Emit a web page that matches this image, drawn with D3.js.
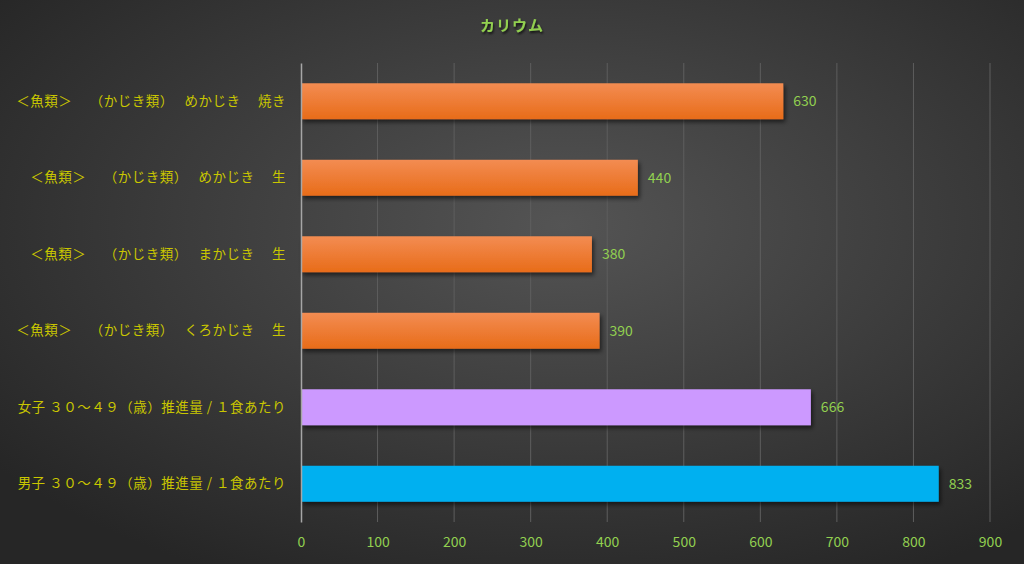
<!DOCTYPE html>
<html>
<head>
<meta charset="utf-8">
<script src="https://cdn.jsdelivr.net/npm/d3@7"></script>
<style>
  html, body { margin: 0; padding: 0; background: #333; }
  svg { display: block; }
</style>
</head>
<body>
<div id="chart"></div>
<script>
const categories = [
  "＜魚類＞　 （かじき類）　 めかじき　 焼き",
  "＜魚類＞　 （かじき類）　 めかじき　 生",
  "＜魚類＞　 （かじき類）　 まかじき　 生",
  "＜魚類＞　 （かじき類）　 くろかじき　 生",
  "女子 ３０～４９（歳）推進量 / １食あたり",
  "男子 ３０～４９（歳）推進量 / １食あたり"
];
const values = [630, 440, 380, 390, 666, 833];
const barKinds = ["fish", "fish", "fish", "fish", "female", "male"];
const xTicks = [0, 100, 200, 300, 400, 500, 600, 700, 800, 900];

const W = 1024, H = 564;
const margin = { top: 63, right: 34, bottom: 42, left: 301 };
const width = W - margin.left - margin.right;
const height = H - margin.top - margin.bottom;

const svg = d3.select("#chart").append("svg")
  .attr("width", W)
  .attr("height", H);

const defs = svg.append("defs");

const bg = defs.append("radialGradient")
  .attr("id", "bg")
  .attr("cx", "55%").attr("cy", "40%").attr("r", "70%");
bg.append("stop").attr("offset", "0%").attr("stop-color", "#545454");
bg.append("stop").attr("offset", "100%").attr("stop-color", "#262626");

const orange = defs.append("linearGradient")
  .attr("id", "orange")
  .attr("x1", 0).attr("y1", 0).attr("x2", 0).attr("y2", 1);
orange.append("stop").attr("offset", "0%").attr("stop-color", "#f38c52");
orange.append("stop").attr("offset", "100%").attr("stop-color", "#e86c19");

const shadow = defs.append("filter")
  .attr("id", "shadow")
  .attr("x", "-5%").attr("y", "-20%").attr("width", "115%").attr("height", "160%");
shadow.append("feDropShadow")
  .attr("dx", 2).attr("dy", 3).attr("stdDeviation", 2)
  .attr("flood-color", "#000").attr("flood-opacity", 0.55);

const titleShadow = defs.append("filter").attr("id", "tshadow");
titleShadow.append("feDropShadow")
  .attr("dx", 1).attr("dy", 2).attr("stdDeviation", 1)
  .attr("flood-color", "#000").attr("flood-opacity", 0.7);

svg.append("rect")
  .attr("width", W).attr("height", H)
  .attr("fill", "url(#bg)");

const fill = { fish: "url(#orange)", female: "#cc99ff", male: "#00b0f0" };

const g = svg.append("g")
  .attr("transform", `translate(${margin.left},${margin.top})`);

const x = d3.scaleLinear().domain([0, 900]).range([0, width]);
const y = d3.scaleBand().domain(categories).range([0, height]).paddingInner(0.53).paddingOuter(0.265);

// gridlines
g.append("g")
  .selectAll("line")
  .data(xTicks.slice(1))
  .join("line")
  .attr("x1", d => x(d)).attr("x2", d => x(d))
  .attr("y1", 0).attr("y2", height)
  .attr("stroke", "#5e5e5e")
  .attr("stroke-width", 1);

// x axis labels
const xAxis = g.append("g")
  .attr("transform", `translate(0,${height})`)
  .call(d3.axisBottom(x).tickValues(xTicks).tickSize(0).tickPadding(15));
xAxis.select(".domain").remove();
xAxis.selectAll("text")
  .attr("fill", "#92d050")
  .attr("font-family", "'Noto Sans CJK JP', 'Noto Sans', sans-serif")
  .attr("font-size", 14);

// bars
g.selectAll(".bar")
  .data(values)
  .join("rect")
  .attr("class", "bar")
  .attr("x", 0)
  .attr("y", (d, i) => y(categories[i]))
  .attr("width", d => x(d))
  .attr("height", y.bandwidth())
  .attr("fill", (d, i) => fill[barKinds[i]])
  .attr("filter", "url(#shadow)");

// value labels
g.selectAll(".val")
  .data(values)
  .join("text")
  .attr("class", "val")
  .attr("x", d => x(d) + 10)
  .attr("y", (d, i) => y(categories[i]) + y.bandwidth() / 2)
  .attr("dy", "0.35em")
  .attr("fill", "#92d050")
  .attr("font-family", "'Noto Sans CJK JP', 'Noto Sans', sans-serif")
  .attr("font-size", 14)
  .text(d => d);

// y axis
const yAxis = g.append("g")
  .call(d3.axisLeft(y).tickSize(0).tickPadding(15));
yAxis.select(".domain")
  .attr("stroke", "#a6a6a6")
  .attr("stroke-width", 1.5);
yAxis.selectAll("text")
  .attr("fill", "#c9c600")
  .attr("font-family", "'Noto Sans CJK JP', sans-serif")
  .attr("font-size", 13.5)
  .attr("letter-spacing", 0.5);

// title
svg.append("text")
  .attr("x", 512)
  .attr("y", 31)
  .attr("text-anchor", "middle")
  .attr("fill", "#92d050")
  .attr("font-family", "'Noto Sans CJK JP', sans-serif")
  .attr("font-weight", "bold")
  .attr("font-size", 15)
  .attr("letter-spacing", 1)
  .attr("filter", "url(#tshadow)")
  .text("カリウム");
</script>
</body>
</html>
